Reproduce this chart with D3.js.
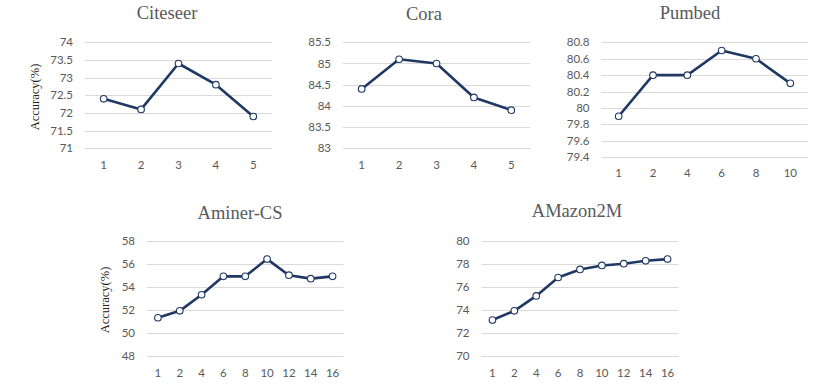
<!DOCTYPE html>
<html lang="en">
<head>
    <meta charset="UTF-8">
    <title>Accuracy panels</title>
    <script src="https://d3js.org/d3.v7.min.js"></script>
    <style>
        body { margin: 0; background: #fff; }
        .title { font-family: "Liberation Serif", "Times New Roman", serif; font-size: 18.5px; fill: #595959; text-anchor: middle; }
        .ylab { font-family: "Liberation Serif", "Times New Roman", serif; font-size: 12.5px; fill: #222; text-anchor: middle; }
        .tick { font-family: Lato, "Open Sans", sans-serif; font-size: 11.5px; fill: #595959; }
        .grid { stroke: #d9d9d9; stroke-width: 1; }
        .line { fill: none; stroke: #203864; stroke-width: 2.6; stroke-linejoin: round; }
        .dot { fill: #fff; stroke: #203864; stroke-width: 1.1; }
    </style>
</head>
<body>
    <script>
        // data per panel
        const citeseerX = ["1", "2", "3", "4", "5"];
        const citeseerY = [72.4, 72.1, 73.4, 72.8, 71.9];
        const citeseerTicks = [71, 71.5, 72, 72.5, 73, 73.5, 74];

        const coraX = ["1", "2", "3", "4", "5"];
        const coraY = [84.4, 85.1, 85.0, 84.2, 83.9];
        const coraTicks = [83, 83.5, 84, 84.5, 85, 85.5];

        const pumbedX = ["1", "2", "4", "6", "8", "10"];
        const pumbedY = [79.9, 80.4, 80.4, 80.7, 80.6, 80.3];
        const pumbedTicks = [79.4, 79.6, 79.8, 80, 80.2, 80.4, 80.6, 80.8];

        const aminerX = ["1", "2", "4", "6", "8", "10", "12", "14", "16"];
        const aminerY = [51.3, 51.9, 53.3, 54.9, 54.9, 56.4, 55.0, 54.7, 54.9];
        const aminerTicks = [48, 50, 52, 54, 56, 58];

        const amazonX = ["1", "2", "4", "6", "8", "10", "12", "14", "16"];
        const amazonY = [73.1, 73.9, 75.2, 76.8, 77.5, 77.85, 78.0, 78.25, 78.4];
        const amazonTicks = [70, 72, 74, 76, 78, 80];

        const svg = d3.select("body").append("svg")
            .attr("width", 830)
            .attr("height", 386);

        const drawPanel = (opt) => {
            const g = svg.append("g");
            const x = d3.scalePoint().domain(opt.cats).range([opt.x0, opt.x1]).padding(0.5);
            const y = d3.scaleLinear().domain(d3.extent(opt.ticks)).range([opt.y1, opt.y0]);

            g.selectAll(".grid").data(opt.ticks).enter().append("line")
                .attr("class", "grid")
                .attr("x1", opt.x0).attr("x2", opt.x1)
                .attr("y1", d => Math.round(y(d)) + 0.5).attr("y2", d => Math.round(y(d)) + 0.5);

            g.selectAll(".yt").data(opt.ticks).enter().append("text")
                .attr("class", "tick")
                .attr("x", opt.x0 - 12)
                .attr("y", d => y(d))
                .attr("dy", "0.35em")
                .attr("text-anchor", "end")
                .text(d => d);

            g.selectAll(".xt").data(opt.cats).enter().append("text")
                .attr("class", "tick")
                .attr("x", d => x(d))
                .attr("y", opt.xLabY)
                .attr("dy", "0.35em")
                .attr("text-anchor", "middle")
                .text(d => d);

            const pts = opt.cats.map((c, i) => [x(c), y(opt.vals[i])]);
            g.append("path").attr("class", "line").attr("d", d3.line()(pts));
            g.selectAll(".dot").data(pts).enter().append("circle")
                .attr("class", "dot")
                .attr("cx", d => d[0]).attr("cy", d => d[1]).attr("r", 3.3);

            g.append("text").attr("class", "title")
                .attr("x", opt.tx).attr("y", opt.ty).attr("dy", "0.35em")
                .text(opt.title);

            if (opt.ylx) {
                g.append("text").attr("class", "ylab")
                    .attr("transform", `translate(${opt.ylx},${opt.yly}) rotate(-90)`)
                    .attr("dy", "0.35em")
                    .text("Accuracy(%)");
            }
        };

        drawPanel({ title: "Citeseer", cats: citeseerX, vals: citeseerY, ticks: citeseerTicks,
            x0: 85, x1: 272, y0: 42.3, y1: 148.3, xLabY: 165, tx: 167, ty: 13, ylx: 35, yly: 97 });
        drawPanel({ title: "Cora", cats: coraX, vals: coraY, ticks: coraTicks,
            x0: 343, x1: 530, y0: 42.3, y1: 148.3, xLabY: 165, tx: 424, ty: 14 });
        drawPanel({ title: "Pumbed", cats: pumbedX, vals: pumbedY, ticks: pumbedTicks,
            x0: 601.5, x1: 807.5, y0: 42.3, y1: 157.3, xLabY: 173, tx: 690, ty: 13 });
        drawPanel({ title: "Aminer-CS", cats: aminerX, vals: aminerY, ticks: aminerTicks,
            x0: 147, x1: 343.5, y0: 240.7, y1: 355.7, xLabY: 372.5, tx: 240, ty: 212.5, ylx: 105, yly: 300 });
        drawPanel({ title: "AMazon2M", cats: amazonX, vals: amazonY, ticks: amazonTicks,
            x0: 481.5, x1: 678.5, y0: 240.7, y1: 355.7, xLabY: 372.5, tx: 577, ty: 211 });
    </script>
</body>
</html>
